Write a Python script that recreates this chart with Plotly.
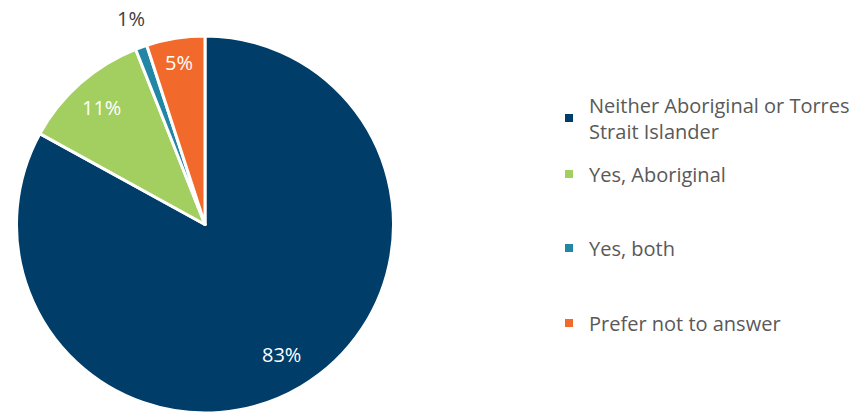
import math
import textwrap
import plotly.graph_objects as go

# Survey response: Aboriginal / Torres Strait Islander identification
categories = [
    "Neither Aboriginal or Torres Strait Islander",
    "Yes, Aboriginal",
    "Yes, both",
    "Prefer not to answer",
]
percent = [83, 11, 1, 5]
colors = ["#003D68", "#A3CE60", "#2386A4", "#F26A2B"]

W, H = 867, 413
FONT = "Open Sans"

# pie placement (pixels)
pie_top = 36
pie_w = 410
pie_h = H - pie_top
cx = pie_w / 2
cy = pie_top + pie_h / 2
r = min(pie_w, pie_h) / 2

fig = go.Figure()
fig.add_trace(go.Pie(
    labels=categories,
    values=percent,
    sort=False,
    direction="clockwise",
    rotation=0,
    marker=dict(colors=colors, line=dict(color="white", width=3)),
    textinfo="none",
    hoverinfo="label+percent",
    showlegend=False,
    domain=dict(x=[0, pie_w / W], y=[0, pie_h / H]),
))

# data labels along each slice's bisector
label_radius = [0.80, 0.83, 1.16, 0.87]
label_color = ["white", "white", "#404040", "white"]
total = sum(percent)
start = 0.0
annotations = []
for i, v in enumerate(percent):
    mid = (start + v / 2) / total * 2 * math.pi
    start += v
    px = cx + r * label_radius[i] * math.sin(mid)
    py = cy - r * label_radius[i] * math.cos(mid)
    annotations.append(dict(
        x=px / W, y=1 - py / H, xref="paper", yref="paper",
        text=f"{round(v / total * 100)}%", showarrow=False,
        font=dict(family=FONT, size=20, color=label_color[i]),
        xanchor="center", yanchor="middle",
    ))

# one legend per category so the entries can be spaced freely
legend_y = [118, 174, 248, 323]
legend_ids = ["legend", "legend2", "legend3", "legend4"]
legend_layout = {}
for i, name in enumerate(categories):
    fig.add_trace(go.Scatter(
        x=[None], y=[None], mode="markers",
        marker=dict(symbol="square", size=8, color=colors[i]),
        name="<br>".join(textwrap.wrap(name, 28)),
        legend=legend_ids[i], hoverinfo="skip",
    ))
    legend_layout[legend_ids[i]] = dict(
        x=549 / W, y=1 - legend_y[i] / H, xanchor="left", yanchor="middle",
        bgcolor="rgba(0,0,0,0)",
        font=dict(family=FONT, size=20, color="#595959"),
    )

fig.update_layout(
    width=W, height=H,
    margin=dict(l=0, r=0, t=0, b=0),
    paper_bgcolor="white", plot_bgcolor="white",
    xaxis=dict(visible=False), yaxis=dict(visible=False),
    annotations=annotations,
    **legend_layout,
)

fig.write_html("out.html")
